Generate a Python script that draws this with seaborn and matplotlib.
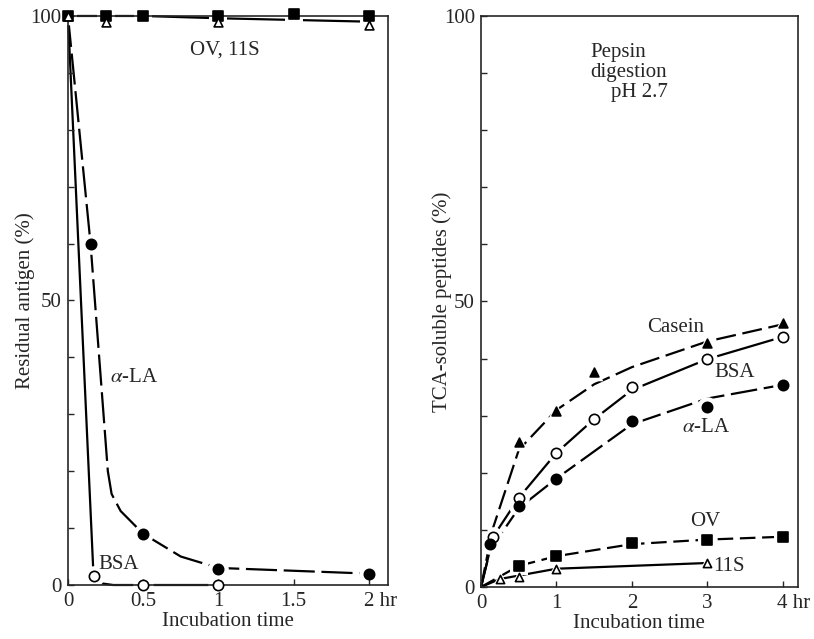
import matplotlib
matplotlib.use('Agg')

import seaborn as sns
from matplotlib import pyplot as plt
from matplotlib import transforms

# ---- left panel: residual antigen (%) ----
ov_l_x = [0, 0.25, 0.5, 1, 1.5, 2]
ov_l_y = [100, 100, 100, 100, 100.4, 100]
s11_l_x = [0, 0.25, 1, 2]
s11_l_y = [100, 99, 99, 98.5]
ala_l_x = [0.15, 0.5, 1, 2]
ala_l_y = [60, 9, 2.8, 1.9]
bsa_l_x = [0.17, 0.5, 1]
bsa_l_y = [1.5, 0, 0]

# curve traces
ov_l_curve_x = [0, 0.5, 1, 2]
ov_l_curve_y = [100, 100, 99.6, 99]
ala_l_curve_x = [0, 0.15, 0.265, 0.29, 0.35, 0.5, 0.75, 1, 2]
ala_l_curve_y = [100, 60, 20, 16, 13, 9, 5, 3, 2]
bsa_l_curve_x = [0, 0.17, 0.22, 0.3, 0.5, 1]
bsa_l_curve_y = [100, 1.5, 0.3, 0, 0, 0]

# ---- right panel: TCA-soluble peptides (%) ----
casein_x = [0.5, 1, 1.5, 3, 4]
casein_y = [25.4, 30.8, 37.6, 42.7, 46.2]
bsa_x = [0.16, 0.5, 1, 1.5, 2, 3, 4]
bsa_y = [8.8, 15.6, 23.5, 29.4, 35.0, 39.9, 43.8]
ala_x = [0.12, 0.5, 1, 2, 3, 4]
ala_y = [7.5, 14.2, 18.9, 29.1, 31.5, 35.4]
ov_x = [0.5, 1, 2, 3, 4]
ov_y = [3.7, 5.4, 7.7, 8.2, 8.8]
s11_x = [0.25, 0.5, 1, 3]
s11_y = [1.4, 1.8, 3.2, 4.2]

casein_curve_x = [0, 0.15, 0.5, 1, 1.5, 2, 3, 4]
casein_curve_y = [0, 10, 24, 31, 35.5, 38.5, 43, 46]
bsa_curve_x = [0, 0.16, 0.5, 1, 1.5, 2, 3, 4]
bsa_curve_y = [0, 8.8, 15.6, 23.5, 29.4, 34.5, 39.9, 43.8]
ala_curve_x = [0, 0.12, 0.5, 1, 2, 3, 4]
ala_curve_y = [0, 6.5, 13.8, 19, 28.5, 33, 35.4]
ov_curve_x = [0, 0.5, 1, 2, 3, 4]
ov_curve_y = [0, 3.7, 5.4, 7.5, 8.3, 8.8]
s11_curve_x = [0, 0.25, 0.5, 1, 3]
s11_curve_y = [0, 1.4, 2, 3.2, 4.2]

left_xticks = [0, 0.5, 1, 1.5, 2]
left_xlabels = ['0', '0.5', '1', '1.5', '2 hr']
right_xticks = [0, 1, 2, 3, 4]
right_xlabels = ['0', '1', '2', '3', '4 hr']

sns.set_style('ticks')
plt.rcParams['font.family'] = ['Liberation Serif', 'DejaVu Serif']
plt.rcParams['mathtext.fontset'] = 'stix'

FS = 15
fig = plt.figure(figsize=(8.14, 6.39), dpi=100)
ax1 = fig.add_axes([0.0835, 0.0845, 0.393, 0.8905])
ax2 = fig.add_axes([0.591, 0.0814, 0.389, 0.8936])

LW = 1.6


def curve(ax, x, y, dashes=None):
    sns.lineplot(x=x, y=y, ax=ax, color='black', lw=LW, sort=False,
                 estimator=None, zorder=2)
    line = ax.lines[-1]
    line.set_clip_on(False)
    if dashes:
        line.set_dashes(dashes)


def points(ax, x, y, marker, filled, size=55):
    # white halo so that the line breaks around each symbol
    sns.scatterplot(x=x, y=y, ax=ax, marker=marker, s=size * 4, color='white',
                    edgecolor='white', linewidth=0, zorder=2.2, clip_on=False)
    sns.scatterplot(x=x, y=y, ax=ax, marker=marker, s=size,
                    color='black' if filled else 'white',
                    edgecolor='black', linewidth=1.2, zorder=4, clip_on=False)


# left panel
curve(ax1, ov_l_curve_x, ov_l_curve_y)
curve(ax1, ala_l_curve_x, ala_l_curve_y, dashes=(14, 3))
curve(ax1, bsa_l_curve_x, bsa_l_curve_y)
points(ax1, ov_l_x, ov_l_y, 's', True, 45)
points(ax1, s11_l_x, s11_l_y, '^', False, 40)
points(ax1, ala_l_x, ala_l_y, 'o', True)
points(ax1, bsa_l_x, bsa_l_y, 'o', False)

ax1.text(1.04, 94, 'OV, 11S', fontsize=FS, ha='center', va='center')
ax1.text(0.28, 36.5, r'$\alpha$-LA', fontsize=FS, va='center')
ax1.text(0.2, 3.6, 'BSA', fontsize=FS, va='center')

ax1.set_xlim(0, 2.126)
ax1.set_ylim(0, 100)
ax1.set_ylabel('Residual antigen (%)', fontsize=FS, labelpad=-3)

# right panel
curve(ax2, casein_curve_x, casein_curve_y, dashes=(9, 3))
curve(ax2, bsa_curve_x, bsa_curve_y)
curve(ax2, ala_curve_x, ala_curve_y, dashes=(12, 3))
curve(ax2, ov_curve_x, ov_curve_y, dashes=(7, 3))
curve(ax2, s11_curve_x, s11_curve_y)
points(ax2, casein_x, casein_y, '^', True, 40)
points(ax2, bsa_x, bsa_y, 'o', False)
points(ax2, ala_x, ala_y, 'o', True)
points(ax2, ov_x, ov_y, 's', True, 45)
points(ax2, s11_x, s11_y, '^', False, 35)

ax2.text(1.45, 95.3, 'Pepsin\ndigestion\n    pH 2.7', fontsize=FS, va='top',
         linespacing=1.08)
ax2.text(2.2, 45.4, 'Casein', fontsize=FS, va='center')
ax2.text(3.1, 37.5, 'BSA', fontsize=FS, va='center')
ax2.text(2.67, 28, r'$\alpha$-LA', fontsize=FS, va='center')
ax2.text(2.77, 11.5, 'OV', fontsize=FS, va='center')
ax2.text(3.08, 3.6, '11S', fontsize=FS, va='center')

ax2.set_xlim(0, 4.2)
ax2.set_ylim(0, 100)
ax2.set_ylabel('TCA-soluble peptides (%)', fontsize=FS, labelpad=-6)

yt = list(range(0, 101, 10))
ylabels = [str(v) if v % 50 == 0 else '' for v in yt]
shift = transforms.ScaledTranslation(-FS / 4 / 72, 0, fig.dpi_scale_trans)
for ax, xt, xl in [(ax1, left_xticks, left_xlabels), (ax2, right_xticks, right_xlabels)]:
    ax.set_axisbelow(False)
    ax.set_yticks(yt)
    ax.set_yticklabels(ylabels)
    ax.set_xticks(xt)
    ax.set_xticklabels(xl)
    ax.set_xlabel('Incubation time', fontsize=FS, labelpad=1)
    ax.tick_params(direction='in', length=4, width=1, labelsize=FS)
    ax.tick_params(axis='x', pad=5)
    ax.tick_params(axis='y', pad=4.5)
    for s in ax.spines.values():
        s.set_linewidth(1.2)
        s.set_visible(True)
    last = ax.get_xticklabels()[-1]
    last.set_horizontalalignment('left')
    last.set_transform(last.get_transform() + shift)

fig.savefig('out.png', dpi=100)
